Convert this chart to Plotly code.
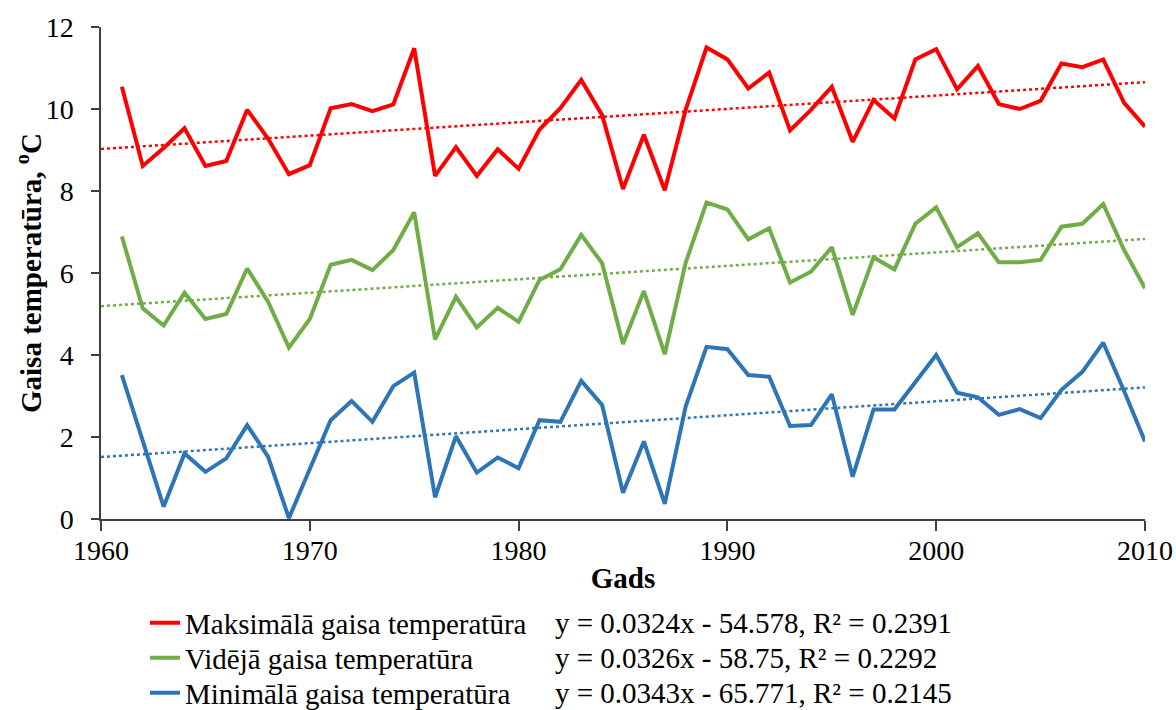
import numpy as np
import plotly.graph_objects as go

years = list(range(1961, 2011))

max_temp = [10.54, 8.61, 9.05, 9.53, 8.61, 8.73, 9.98, 9.28, 8.41, 8.63,
            10.02, 10.12, 9.95, 10.11, 11.48, 8.37, 9.07, 8.37, 9.02, 8.54,
            9.50, 10.02, 10.71, 9.85, 8.05, 9.37, 8.02, 9.98, 11.50, 11.21,
            10.50, 10.89, 9.48, 9.98, 10.54, 9.20, 10.22, 9.77, 11.21, 11.46,
            10.48, 11.05, 10.12, 10.00, 10.20, 11.11, 11.02, 11.21, 10.15, 9.57]

avg_temp = [6.89, 5.14, 4.72, 5.52, 4.88, 5.00, 6.11, 5.30, 4.18, 4.88,
            6.20, 6.32, 6.07, 6.56, 7.48, 4.38, 5.42, 4.67, 5.15, 4.81,
            5.83, 6.09, 6.93, 6.24, 4.27, 5.56, 4.02, 6.25, 7.72, 7.55,
            6.82, 7.09, 5.77, 6.03, 6.63, 4.98, 6.38, 6.09, 7.20, 7.60,
            6.63, 6.97, 6.26, 6.26, 6.32, 7.13, 7.20, 7.68, 6.56, 5.63]

min_temp = [3.51, 1.90, 0.30, 1.60, 1.15, 1.48, 2.29, 1.52, 0.02, 1.22,
            2.41, 2.88, 2.37, 3.24, 3.57, 0.53, 2.02, 1.13, 1.50, 1.24,
            2.41, 2.37, 3.37, 2.78, 0.64, 1.89, 0.37, 2.74, 4.20, 4.14,
            3.51, 3.47, 2.27, 2.29, 3.04, 1.03, 2.67, 2.67, 3.35, 4.00,
            3.08, 2.97, 2.54, 2.68, 2.46, 3.15, 3.59, 4.30, 3.12, 1.89]

series_names = ["Maksimālā gaisa temperatūra",
                "Vidējā gaisa temperatūra",
                "Minimālā gaisa temperatūra"]
equations = ["y = 0.0324x - 54.578, R² = 0.2391",
             "y = 0.0326x - 58.75, R² = 0.2292",
             "y = 0.0343x - 65.771, R² = 0.2145"]
colors = ["#FF0000", "#70AD47", "#2E75B6"]

x_title = "Gads"
y_title = "Gaisa temperatūra, <sup>o</sup>C"
x_ticks = [1960, 1970, 1980, 1990, 2000, 2010]
y_ticks = [0, 2, 4, 6, 8, 10, 12]

FONT = "Liberation Serif"

W, H = 1176, 710
L, R, T, B = 101, 31, 27, 191
pw, ph = W - L - R, H - T - B


def px(xp):
    return (xp - L) / pw


def py(yp):
    return (H - B - yp) / ph


row_y = [623, 658, 693]
legend_ids = ["legend", "legend2", "legend3"]

fig = go.Figure()
trend_x = np.array([1960, 2010])
for name, vals, col, lid in zip(series_names, [max_temp, avg_temp, min_temp],
                                colors, legend_ids):
    fig.add_trace(go.Scatter(x=years, y=vals, mode="lines", name=name,
                             legend=lid, line=dict(color=col, width=4)))
for vals, col in zip([max_temp, avg_temp, min_temp], colors):
    k, b = np.polyfit(years, vals, 1)
    fig.add_trace(go.Scatter(x=trend_x, y=k * trend_x + b, mode="lines",
                             showlegend=False, hoverinfo="skip",
                             line=dict(color=col, width=2.5, dash="dot")))

for eq, yy in zip(equations, row_y):
    fig.add_annotation(text=eq, x=px(553), y=py(yy), xref="paper",
                       yref="paper", xanchor="left", yanchor="middle",
                       showarrow=False,
                       font=dict(family=FONT, size=29, color="black"))

# y-axis title as rotated text
fig.add_annotation(text="<b>" + y_title + "</b>", x=px(29), y=py(273),
                   xref="paper", yref="paper", xanchor="center",
                   yanchor="middle", textangle=-90, showarrow=False,
                   font=dict(family=FONT, size=29, color="black"))

legend_cfg = {}
for lid, yy in zip(legend_ids, row_y):
    legend_cfg[lid] = dict(xref="container", yref="container",
                           x=145 / W, y=1 - yy / H, xanchor="left",
                           yanchor="middle", orientation="v",
                           font=dict(family=FONT, size=29, color="black"),
                           itemwidth=30, bgcolor="rgba(0,0,0,0)")

fig.update_layout(
    width=W, height=H,
    margin=dict(l=L, r=R, t=T, b=B, autoexpand=False),
    paper_bgcolor="white", plot_bgcolor="white",
    font=dict(family=FONT, color="black"),
    showlegend=True,
    **legend_cfg,
)
fig.update_xaxes(range=[1960, 2010], tickvals=x_ticks, ticks="outside",
                 ticklen=10, tickwidth=1.5, tickcolor="#404040",
                 showline=True, linecolor="#404040", linewidth=1.5,
                 showgrid=False, zeroline=False, ticklabelstandoff=-4,
                 tickfont=dict(family=FONT, size=28, color="black"),
                 title=dict(text="<b>" + x_title + "</b>", standoff=2,
                            font=dict(family=FONT, size=29, color="black")))
fig.update_yaxes(range=[0, 12], tickvals=y_ticks, ticks="outside",
                 ticklen=8, tickwidth=1.5, tickcolor="#404040",
                 showline=True, linecolor="#404040", linewidth=1.5,
                 showgrid=False, zeroline=False, ticklabelstandoff=12,
                 tickfont=dict(family=FONT, size=28, color="black"))

fig.write_html("out.html", config={"displayModeBar": False},
               post_script="document.body.style.margin='0';")
